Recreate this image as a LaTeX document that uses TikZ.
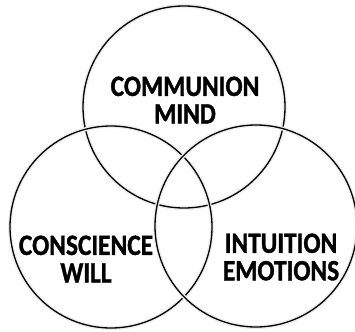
\documentclass[tikz,border=0pt]{standalone}
\usepackage{fontspec}
\setmainfont{Carlito}
\newfontfamily\vennfont[FakeStretch=0.86, BoldFeatures={FakeBold=1.2}]{Carlito}
\usepackage{tikz}
\usetikzlibrary{positioning}

\begin{document}
\begin{tikzpicture}[x=1pt, y=-1pt,
    venn/.style={circle, draw, line width=1.3pt, inner sep=0pt, minimum size=202pt,
        preaction={draw=black!7, line width=4pt}},
    vennlabel/.style={align=center, font=\vennfont\fontsize{29.5}{27.5}\selectfont\bfseries}]
    \useasboundingbox (0,0) rectangle (355,331);
    % circles
    \node[venn] (mind) at (184,107) {};
    \node[venn] (will) at (111,227) {};
    \node[venn] (emotions) at (256,226) {};
    % labels
    \node[vennlabel] (mindtxt) at (185,100) {COMMUNION\\MIND};
    \node[vennlabel] (willtxt) at (86,259) {CONSCIENCE\\WILL};
    \node[vennlabel] (emotionstxt) at (281,257) {INTUITION\\EMOTIONS};
\end{tikzpicture}
\end{document}
